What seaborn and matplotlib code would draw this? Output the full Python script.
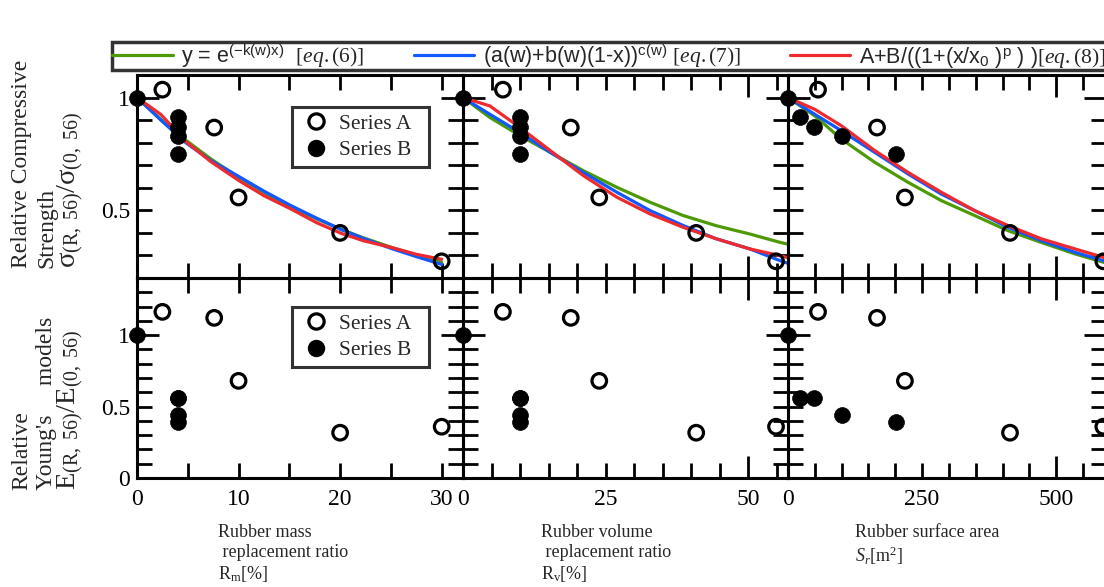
import numpy as np
import pandas as pd
import matplotlib
matplotlib.use("Agg")
import matplotlib.pyplot as plt
import seaborn as sns
from matplotlib.lines import Line2D
from matplotlib.ticker import FixedLocator, MultipleLocator, FuncFormatter

# ---------------- data ----------------
series_a_mass = [2.5, 7.6, 10, 20, 30]
series_a_vol = [7.0, 18.9, 23.9, 40.9, 54.9]
series_a_area = [56, 166, 218, 414, 588]
series_a_strength = [1.035, 0.867, 0.557, 0.400, 0.274]
series_a_modulus = [1.163, 1.121, 0.680, 0.317, 0.359]

series_b_mass = [0, 4, 4, 4, 4]
series_b_vol = [0, 10, 10, 10, 10]
series_b_area = [0, 22, 48.5, 101, 201]
series_b_strength = [1.0, 0.912, 0.870, 0.830, 0.748]
series_b_modulus = [1.0, 0.562, 0.562, 0.440, 0.394]

fit_mass_x = [0, 2.35, 4.8, 7.3, 10.1, 12.5, 15.2, 17.7, 20.1, 22.3, 25.1, 27.5, 30]
fit_mass_eq6 = [1.0, 0.903, 0.811, 0.727, 0.644, 0.580, 0.515, 0.462, 0.416, 0.378, 0.335, 0.302, 0.270]
fit_mass_eq7 = [1.0, 0.900, 0.800, 0.720, 0.648, 0.585, 0.520, 0.465, 0.415, 0.375, 0.330, 0.295, 0.260]
fit_mass_eq8 = [1.0, 0.925, 0.805, 0.715, 0.630, 0.565, 0.505, 0.445, 0.398, 0.365, 0.335, 0.305, 0.283]

fit_vol_x = [0, 4.7, 10, 15.3, 21.1, 27, 32.8, 38.6, 44.4, 50.3, 55.6, 57]
fit_vol_eq6 = [1.0, 0.912, 0.831, 0.757, 0.676, 0.602, 0.536, 0.477, 0.432, 0.395, 0.358, 0.350]
fit_vol_eq7 = [1.0, 0.926, 0.845, 0.757, 0.668, 0.580, 0.499, 0.433, 0.374, 0.329, 0.277, 0.265]
fit_vol_eq8 = [1.0, 0.963, 0.867, 0.765, 0.654, 0.558, 0.484, 0.425, 0.374, 0.329, 0.299, 0.290]

fit_area_x = [0, 49.8, 99.5, 161.7, 224, 286, 348, 410, 472, 535, 588, 595]
fit_area_eq6 = [1.0, 0.919, 0.816, 0.713, 0.624, 0.543, 0.477, 0.410, 0.358, 0.307, 0.270, 0.265]
fit_area_eq7 = [1.0, 0.926, 0.853, 0.757, 0.661, 0.572, 0.499, 0.425, 0.366, 0.314, 0.277, 0.270]
fit_area_eq8 = [1.0, 0.948, 0.875, 0.765, 0.668, 0.580, 0.499, 0.433, 0.374, 0.329, 0.292, 0.287]

eq_labels = [
    "y = e$^{\\mathsf{(-k(w)x)}}$  $\\mathit{[eq.(6)]}$",
    "(a(w)+b(w)(1-x))$^{\\mathsf{c(w)}}$ $\\mathit{[eq.(7)]}$",
    "A+B/((1+(x/x$_{\\mathsf{0}}$ )$^{\\mathsf{p}}$ ) )$\\mathit{[eq.(8)]}$",
]
eq_colors = ["#4e9a06", "#1158ff", "#ef2a2f"]

x_ticks_long = [[0, 10, 20, 30], [0, 50], [0, 500]]
x_ticks_short = [5, 5, 50]
x_tick_labels = [[0, 10, 20, 30], [0, 25, 50], [0, 250, 500]]
x_limits = [(0, 32.1), (0, 57.0), (0, 593)]
x_titles = [
    "Rubber mass\n replacement ratio\nR$_{\\mathrm{m}}$[%]",
    "Rubber volume\n replacement ratio\nR$_{\\mathrm{v}}$[%]",
    "Rubber surface area\n$S_r$[m$^{\\mathrm{2}}$]",
]
y_title_top = ["Relative Compressive", "Strength",
               "σ$_{\\mathrm{(R,\\ 56)}}$/σ$_{\\mathrm{(0,\\ 56)}}$"]
y_title_bot = ["Relative", "Young's     models",
               "E$_{\\mathrm{(R,\\ 56)}}$/E$_{\\mathrm{(0,\\ 56)}}$"]
y_labels_top = [0.5, 1.0]
y_labels_bot = [0, 0.5, 1.0]

# ---------------- style ----------------
sns.set_theme(style="white")
plt.rcParams["font.family"] = ["Liberation Serif", "DejaVu Serif"]
plt.rcParams["mathtext.fontset"] = "custom"
plt.rcParams["mathtext.rm"] = "Liberation Serif"
plt.rcParams["mathtext.it"] = "Liberation Serif:italic"
plt.rcParams["mathtext.sf"] = "Liberation Sans"
plt.rcParams["axes.linewidth"] = 2.2

W, H = 1104, 587
fig = plt.figure(figsize=(W / 100, H / 100), dpi=100)


def px_axes(x0, y0, x1, y1):
    return fig.add_axes([x0 / W, 1 - y1 / H, (x1 - x0) / W, (y1 - y0) / H])


def label_only(values):
    def f(v, p):
        for t in values:
            if abs(v - t) < 1e-6:
                return f"{t:g}"
        return ""
    return FuncFormatter(f)


cols = [(137, 463), (463, 788), (788, 1106)]
rows = [(75, 278), (278, 478)]

xs_a = [series_a_mass, series_a_vol, series_a_area]
xs_b = [series_b_mass, series_b_vol, series_b_area]
fits = [
    (fit_mass_x, [fit_mass_eq6, fit_mass_eq7, fit_mass_eq8]),
    (fit_vol_x, [fit_vol_eq6, fit_vol_eq7, fit_vol_eq8]),
    (fit_area_x, [fit_area_eq6, fit_area_eq7, fit_area_eq8]),
]

open_kw = dict(s=110, facecolor="none", edgecolor="black", linewidth=2.3, clip_on=False, zorder=6)
fill_kw = dict(s=130, color="black", edgecolor="black", linewidth=0.5, clip_on=False, zorder=6)

line_handles = []
for r, (y0, y1) in enumerate(rows):
    for c, (x0, x1) in enumerate(cols):
        ax = px_axes(x0, y0, x1, y1)
        ax.set_facecolor("none")
        if r == 0:
            fx, fys = fits[c]
            for fy, col, lab in zip(fys, eq_colors, eq_labels):
                df = pd.DataFrame({"x": fx, "y": fy})
                sns.lineplot(data=df, x="x", y="y", ax=ax, color=col, linewidth=2.3,
                             sort=False, estimator=None, zorder=4)
                if c == 0:
                    line_handles.append(Line2D([], [], color=col, linewidth=2.3, label=lab))
            ya, yb = series_a_strength, series_b_strength
            ax.set_ylim(0.2, 1.1)
            ylab = y_labels_top
        else:
            ya, yb = series_a_modulus, series_b_modulus
            ax.set_ylim(0, 1.4)
            ylab = y_labels_bot
        ax.yaxis.set_major_locator(FixedLocator([1.0]))
        ax.yaxis.set_minor_locator(MultipleLocator(0.1))
        ax.yaxis.set_major_formatter(label_only(ylab))
        ax.yaxis.set_minor_formatter(label_only(ylab))
        sns.scatterplot(x=xs_a[c], y=ya, ax=ax, **open_kw)
        sns.scatterplot(x=xs_b[c], y=yb, ax=ax, **fill_kw)
        ax.set_xlim(*x_limits[c])
        ax.xaxis.set_major_locator(FixedLocator(x_ticks_long[c]))
        ax.xaxis.set_minor_locator(MultipleLocator(x_ticks_short[c]))
        ax.xaxis.set_major_formatter(label_only(x_tick_labels[c]))
        ax.xaxis.set_minor_formatter(label_only(x_tick_labels[c]))
        ax.set_xlabel("")
        ax.set_ylabel("")
        for s in ax.spines.values():
            s.set_visible(True)
            s.set_color("black")
            s.set_linewidth(2.2)
        ax.tick_params(which="both", direction="in", top=True, right=True, bottom=True, left=True,
                       width=2.0, color="black", labelsize=17, labelcolor="black")
        ax.tick_params(which="major", length=16 if c > 0 else 11)
        ax.tick_params(axis="y", which="major", length=16)
        ax.tick_params(which="minor", length=11)
        ax.tick_params(axis="x", which="both", pad=8)
        ax.tick_params(axis="y", which="both", pad=5)
        ax.tick_params(which="both", labelbottom=(r == 1), labelleft=(c == 0))
        if c == 0:
            h_open = Line2D([], [], marker="o", ls="", mfc="none", mec="black", mew=2.3, ms=11)
            h_fill = Line2D([], [], marker="o", ls="", mfc="black", mec="black", ms=11.5)
            anchor_y = 0.842 if r == 0 else 0.855
            leg = ax.legend([h_open, h_fill], ["Series A  ", "Series B  "], loc="upper left",
                            bbox_to_anchor=(0.475, anchor_y), borderaxespad=0, frameon=True,
                            fancybox=False, edgecolor="black", fontsize=15.5, handletextpad=0.3,
                            borderpad=0.3, labelspacing=0.3, handlelength=1.6)
            leg.get_frame().set_linewidth(2.2)
            leg.set_zorder(10)

# top legend with equations
leg = fig.legend(handles=line_handles, labels=eq_labels, loc="upper left",
                 bbox_to_anchor=(112 / W, 1 - 72 / H, (1106 - 112) / W, 30 / H),
                 mode="expand", ncol=3, frameon=True, fancybox=False, edgecolor="black",
                 borderaxespad=0, handlelength=2.8, handletextpad=0.4, borderpad=0.02,
                 prop={"family": "Liberation Sans", "size": 15.5})
leg.get_frame().set_linewidth(2.5)

# axis titles (one text per line, rotated, aligned at their start)
for lines, ybot in [(y_title_top, 268), (y_title_bot, 490)]:
    for txt, xc, fs in zip(lines, [22, 47, 71], [17, 17, 20.5]):
        fig.text(xc / W, 1 - ybot / H, txt, rotation=90, ha="center", va="bottom",
                 fontsize=fs)
for xt, xpos in zip(x_titles, [218, 541, 855]):
    fig.text(xpos / W, 1 - 524 / H, xt, ha="left", va="top", fontsize=13, linespacing=1.2)

fig.savefig("out.png", dpi=100)
